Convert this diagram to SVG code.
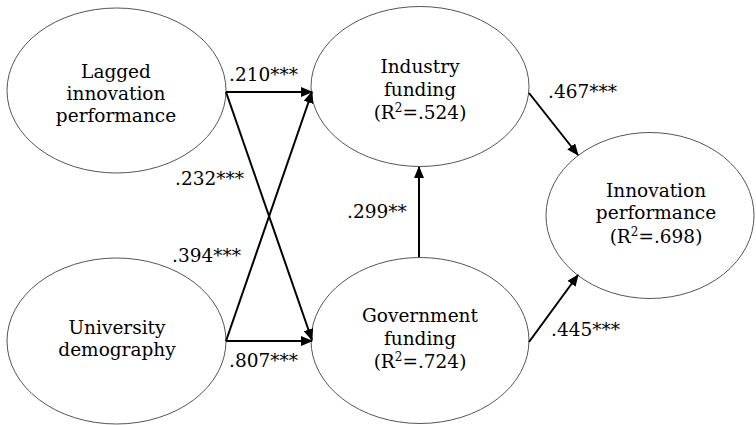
<svg xmlns="http://www.w3.org/2000/svg" width="756" height="425" viewBox="0 0 756 425">
  <style>
    .node ellipse { fill: #fff; stroke: #555; stroke-width: 1; }
    .node text { text-anchor: middle; }
    .edges line { stroke: #000; stroke-width: 2; }
    .sup { font-size: 12px; }
  </style>
  <defs>
    <marker id="arrow" markerUnits="userSpaceOnUse" markerWidth="12" markerHeight="10" refX="11" refY="5" orient="auto">
      <path d="M0,0 L12,5 L0,10 Z" fill="#000"/>
    </marker>
  </defs>
  <rect width="756" height="425" fill="#fff"/>

  <g font-family="DejaVu Serif, serif" font-size="18.5" fill="#000">
    <g id="lagged" class="node">
      <ellipse cx="116.5" cy="90.5" rx="109.5" ry="82.5"/>
      <text x="116" y="78">Lagged</text>
      <text x="116" y="100">innovation</text>
      <text x="116" y="122">performance</text>
    </g>
    <g id="university" class="node">
      <ellipse cx="116.5" cy="341" rx="109.5" ry="83"/>
      <text x="117" y="334">University</text>
      <text x="117" y="356">demography</text>
    </g>
    <g id="industry" class="node">
      <ellipse cx="420" cy="86.5" rx="109" ry="80"/>
      <text x="420" y="73">Industry</text>
      <text x="420" y="96">funding</text>
      <text x="420" y="119">(R<tspan class="sup" dy="-7">2</tspan><tspan dy="7">=.524)</tspan></text>
    </g>
    <g id="government" class="node">
      <ellipse cx="420" cy="340.5" rx="109" ry="83"/>
      <text x="420" y="322">Government</text>
      <text x="420" y="345">funding</text>
      <text x="420" y="368">(R<tspan class="sup" dy="-7">2</tspan><tspan dy="7">=.724)</tspan></text>
    </g>
    <g id="innovation" class="node">
      <ellipse cx="650" cy="215.5" rx="104" ry="83"/>
      <text x="656" y="197">Innovation</text>
      <text x="656" y="219">performance</text>
      <text x="656" y="243">(R<tspan class="sup" dy="-7">2</tspan><tspan dy="7">=.698)</tspan></text>
    </g>

    <g id="edges" class="edges">
      <line x1="226" y1="92" x2="312" y2="92" marker-end="url(#arrow)"/>
      <line x1="226" y1="92" x2="312" y2="340" marker-end="url(#arrow)"/>
      <line x1="226" y1="341" x2="312" y2="92" marker-end="url(#arrow)"/>
      <line x1="226" y1="341" x2="312" y2="341" marker-end="url(#arrow)"/>
      <line x1="419" y1="257" x2="419" y2="167" marker-end="url(#arrow)"/>
      <line x1="529" y1="93" x2="578" y2="155" marker-end="url(#arrow)"/>
      <line x1="529" y1="342" x2="578" y2="275" marker-end="url(#arrow)"/>
    </g>

    <g id="coefficients">
      <text x="229" y="81">.210***</text>
      <text x="175" y="185">.232***</text>
      <text x="172" y="262">.394***</text>
      <text x="229" y="367">.807***</text>
      <text x="347" y="218">.299**</text>
      <text x="548" y="98">.467***</text>
      <text x="551" y="336">.445***</text>
    </g>
  </g>
</svg>
